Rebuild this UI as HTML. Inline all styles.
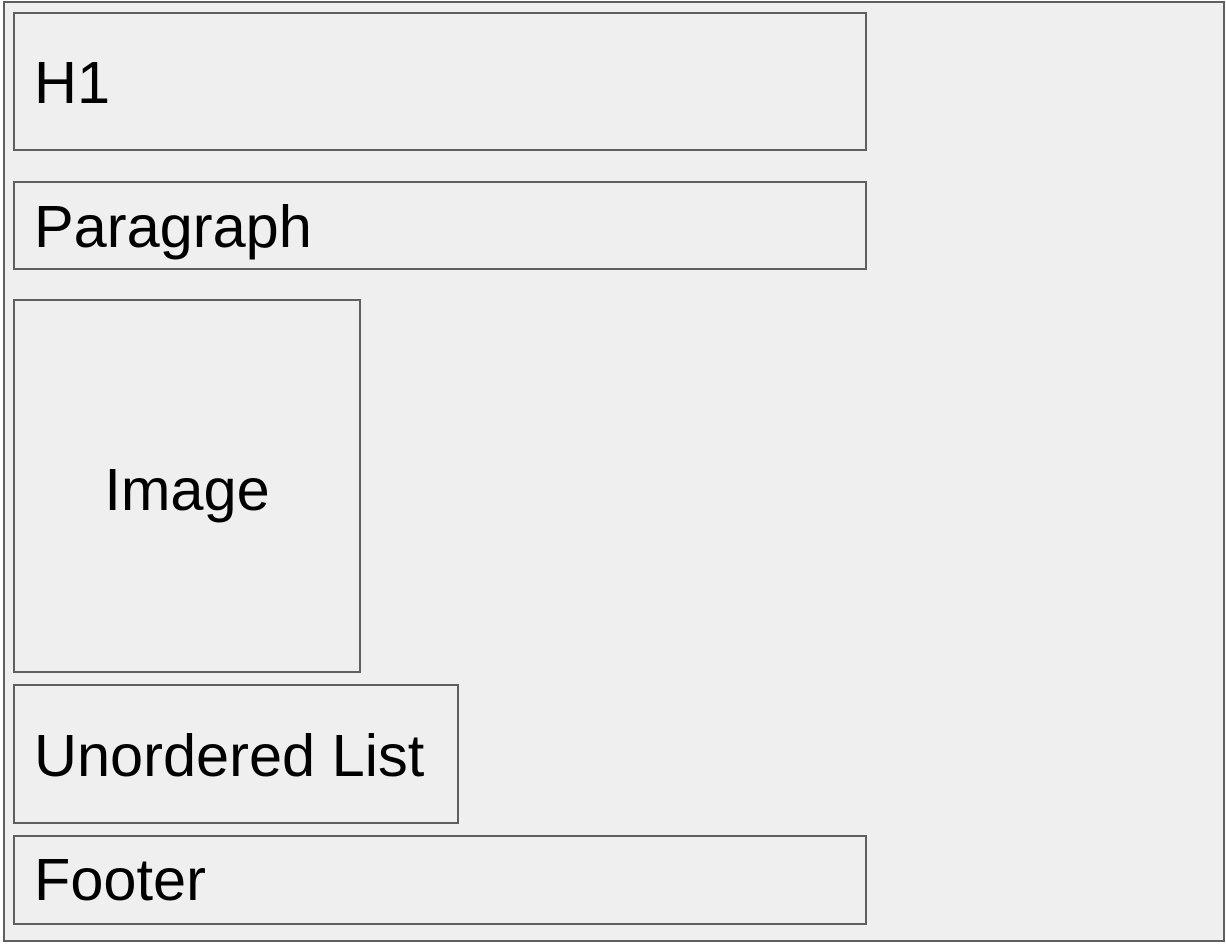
<!DOCTYPE html>
<html><head><meta charset="utf-8"><style>
html,body{margin:0;padding:0;background:#fff;}
body{width:1226px;height:946px;position:relative;overflow:hidden;font-family:"Liberation Sans",sans-serif;}
.b{position:absolute;box-sizing:border-box;border:2px solid #5f5f5f;background:#efefef;}
.t{position:absolute;font-size:59.5px;line-height:59.5px;color:#000;white-space:nowrap;}
</style></head><body>
<div class="b" style="left:3px;top:1px;width:1222px;height:941px;"></div>
<div class="b" style="left:13px;top:12px;width:854px;height:139px;"></div>
<div class="b" style="left:13px;top:181px;width:854px;height:89px;"></div>
<div class="b" style="left:13px;top:299px;width:348px;height:374px;"></div>
<div class="b" style="left:13px;top:684px;width:446px;height:140px;"></div>
<div class="b" style="left:13px;top:835px;width:854px;height:90px;"></div>
<div class="t" style="left:34px;top:53px;">H1</div>
<div class="t" style="left:34px;top:197px;">Paragraph</div>
<div class="t" style="left:13px;width:348px;text-align:center;top:460px;">Image</div>
<div class="t" style="left:34px;top:726px;">Unordered List</div>
<div class="t" style="left:34px;top:850px;">Footer</div>
</body></html>
